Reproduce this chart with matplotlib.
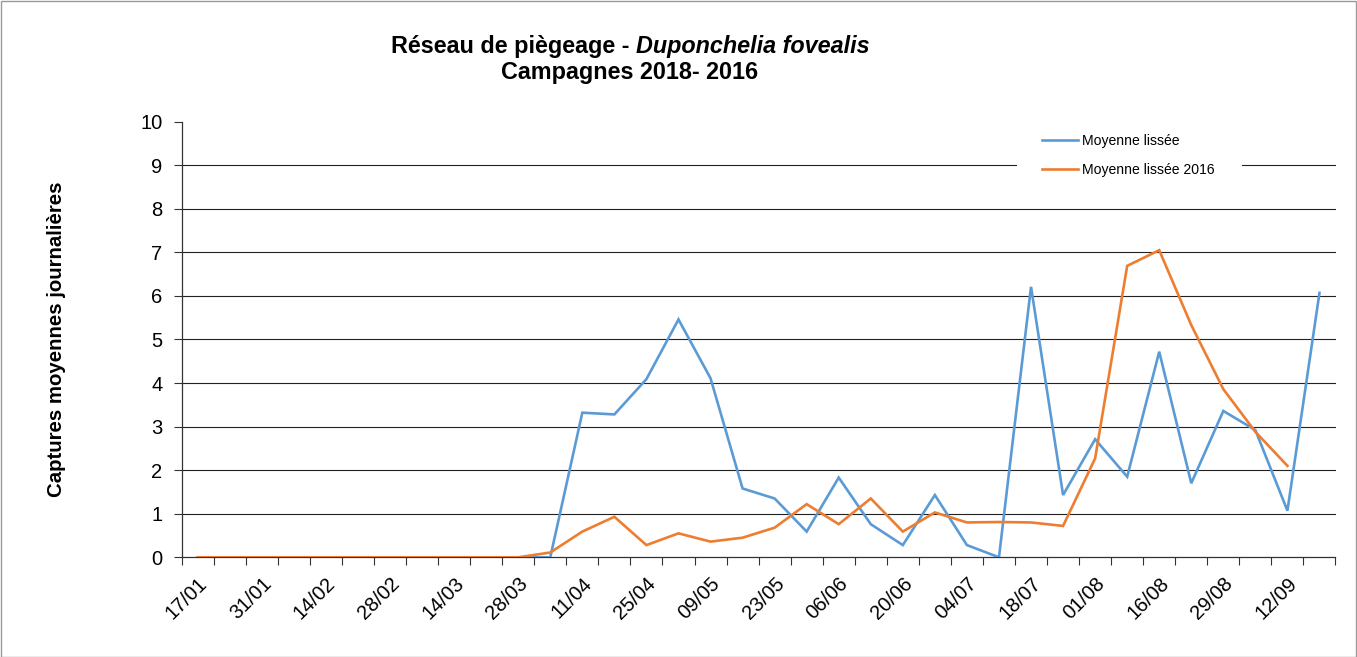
import matplotlib
matplotlib.use("Agg")
import matplotlib.pyplot as plt
from matplotlib.patches import Rectangle

plt.rcParams['font.family'] = ['Liberation Sans', 'DejaVu Sans']

categories = ["17/01", "24/01", "31/01", "07/02", "14/02", "21/02", "28/02", "07/03",
              "14/03", "21/03", "28/03", "04/04", "11/04", "18/04", "25/04", "02/05",
              "09/05", "16/05", "23/05", "30/05", "06/06", "13/06", "20/06", "27/06",
              "04/07", "11/07", "18/07", "25/07", "01/08", "08/08", "16/08", "22/08",
              "29/08", "05/09", "12/09", "19/09"]

moyenne_lissee = [0, 0, 0, 0, 0, 0, 0, 0, 0, 0, 0, 0,
                  3.32, 3.28, 4.09, 5.46, 4.11, 1.58, 1.35, 0.59, 1.83, 0.76,
                  0.28, 1.43, 0.28, 0.0, 6.21, 1.43, 2.71, 1.85, 4.72, 1.70,
                  3.36, 2.92, 1.07, 6.07]

moyenne_lissee_2016 = [0, 0, 0, 0, 0, 0, 0, 0, 0, 0, 0, 0.11,
                       0.59, 0.93, 0.28, 0.55, 0.36, 0.45, 0.68, 1.22, 0.76, 1.35,
                       0.59, 1.03, 0.80, 0.81, 0.80, 0.72, 2.27, 6.69, 7.05, 5.33,
                       3.86, 2.88, 2.10]

series_names = ["Moyenne lissée", "Moyenne lissée 2016"]
y_ticks = list(range(0, 11))

W, H = 1357, 657
fig = plt.figure(figsize=(W / 100, H / 100), dpi=100)
ax = fig.add_axes([181.7 / W, 1 - 557.3 / H, (1335.5 - 181.7) / W, (557.3 - 121.7) / H])

n = len(categories)
x = list(range(n))
ax.plot(x, moyenne_lissee, color='#5B9BD5', lw=1.9, label=series_names[0],
        solid_joinstyle='miter', zorder=3)
ax.plot(list(range(len(moyenne_lissee_2016))), moyenne_lissee_2016, color='#ED7D31', lw=1.9,
        label=series_names[1], solid_joinstyle='miter', zorder=4)

ax.set_xlim(-0.5, n - 0.5)
ax.set_ylim(0, 10)
ax.set_yticks(y_ticks)
ax.set_yticklabels([str(v) for v in y_ticks], fontsize=14.5)
for v in y_ticks[1:-1]:
    ax.axhline(v, color='#222222', lw=0.8, zorder=1)

# ticks at category boundaries, labels every other category
ax.set_xticks([i - 0.5 for i in range(n + 1)])
ax.set_xticklabels([])
ax.set_xticks(list(range(0, n, 2)), minor=True)
ax.set_xticklabels(categories[0::2], minor=True, rotation=45, ha='right', va='top',
                   rotation_mode='anchor', fontsize=14.5)
ax.tick_params(axis='x', which='major', length=6, width=0.8, color='#333333', direction='out')
ax.tick_params(axis='x', which='minor', length=0, pad=12)
ax.tick_params(axis='y', length=6, width=0.8, color='#333333', direction='out', pad=8)

for s in ['top', 'right']:
    ax.spines[s].set_visible(False)
for s in ['left', 'bottom']:
    ax.spines[s].set_color('#333333')
    ax.spines[s].set_linewidth(0.9)

ax.set_ylabel("Captures moyennes journalières", fontsize=14.7, fontweight='bold', labelpad=0)
ax.yaxis.set_label_coords(-(181.7 - 57) / (1335.5 - 181.7), 0.5)
ax.yaxis.label.set_va('center')

# white backing behind the legend (covers the gridline as in the original)
ax.add_patch(Rectangle((1017 / W, 1 - 190 / H), (1242 - 1017) / W, (190 - 124) / H,
                       transform=fig.transFigure, facecolor='white',
                       edgecolor='none', zorder=2, clip_on=False))

leg = ax.legend(loc='upper left', bbox_to_anchor=(1042 / W, 1 - 134 / H),
                bbox_transform=fig.transFigure, frameon=False, fontsize=10.1,
                handlelength=2.6, handletextpad=0.25, labelspacing=1.05,
                borderpad=0, borderaxespad=0)
leg.set_zorder(5)

# Title with italic part
fig.canvas.draw()
renderer = fig.canvas.get_renderer()
t1a = fig.text(0, 1 - 46 / H, "Réseau de piègeage - ", fontsize=16.8, fontweight='bold',
               ha='left', va='center')
t1b = fig.text(0, 1 - 46 / H, "Duponchelia fovealis", fontsize=16.8, fontweight='bold',
               style='italic', ha='left', va='center')
wa = t1a.get_window_extent(renderer).width
wb = t1b.get_window_extent(renderer).width
cx = 630
start = cx - (wa + wb) / 2
t1a.set_x(start / W)
t1b.set_x((start + wa) / W)
fig.text(cx / W, 1 - 72 / H, "Campagnes 2018- 2016", fontsize=16.8, fontweight='bold',
         ha='center', va='center')

fig.patches.append(Rectangle((0.5 / W, 0.5 / H), 1 - 1.5 / W, 1 - 1.5 / H,
                             transform=fig.transFigure, fill=False,
                             edgecolor='#9a9a9a', lw=1))

fig.savefig("out.png", dpi=100)
